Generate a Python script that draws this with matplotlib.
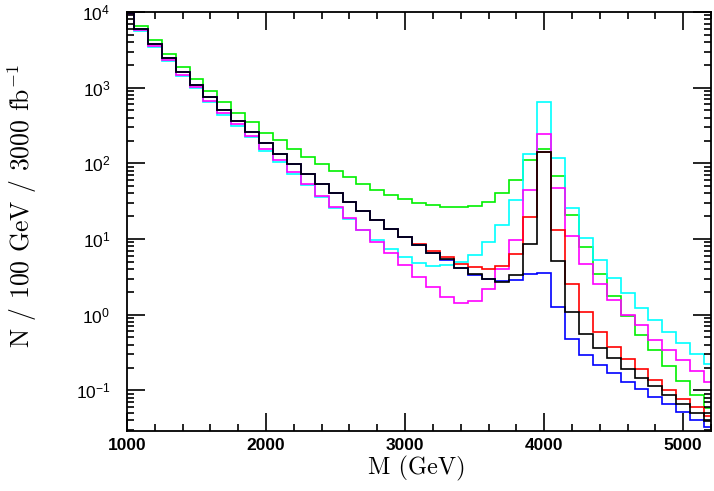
import numpy as np
import matplotlib
matplotlib.use("Agg")
import matplotlib.pyplot as plt
from matplotlib.ticker import FixedLocator, LogLocator, NullFormatter, MultipleLocator
from matplotlib.transforms import blended_transform_factory

plt.rcParams['font.family'] = ['Liberation Sans', 'DejaVu Sans']
plt.rcParams['mathtext.default'] = 'regular'

# bin centres (GeV), 100 GeV bins
mass = np.arange(1000, 5201, 100)
xtick_labels = ['1000', '2000', '3000', '4000', '5000']

green = [10500, 6500, 4240, 2770, 1850, 1290, 910, 645, 469, 349, 251, 201, 156, 123,
         97, 78, 65, 54, 45, 38.7, 33.3, 30, 28, 26.6, 26.6, 27.2, 31, 40, 60, 109, 153,
         67, 20.7, 7.8, 3.46, 1.78, 0.97, 0.546, 0.34, 0.209, 0.133, 0.087, 0.059]
cyan = [9300, 5620, 3490, 2265, 1440, 975, 641, 440, 313, 222, 147, 104, 72, 51,
        36, 25.8, 18.3, 13.1, 9.6, 7.3, 5.74, 4.79, 4.41, 4.5, 4.94, 6.15, 9.05, 15.1, 32.6, 131, 641,
        117, 25.8, 10.4, 5.24, 3.04, 1.93, 1.22, 0.84, 0.586, 0.424, 0.304, 0.22]
magenta = [9400, 5700, 3550, 2320, 1490, 1010, 668, 460, 328, 232, 155, 109, 76, 54,
           36.5, 26.1, 18.7, 13.1, 9.2, 6.48, 4.55, 3.19, 2.31, 1.69, 1.43, 1.53, 2.18, 4.05, 9.7, 44.6, 241,
           47.3, 11.1, 4.73, 2.57, 1.54, 1.0, 0.724, 0.469, 0.34, 0.25, 0.18, 0.13]
red = [9700, 5920, 3760, 2430, 1625, 1085, 746, 508, 361, 258, 185, 134, 97, 72.5,
       54, 40.5, 30.5, 23.2, 17.6, 13.5, 10.6, 8.6, 7.0, 5.7, 4.7, 4.24, 4.03, 4.4, 6.35, 19.7, 143,
       13.1, 2.54, 1.07, 0.592, 0.376, 0.256, 0.189, 0.137, 0.101, 0.0762, 0.0603, 0.0451]
blue = [9700, 5920, 3760, 2430, 1625, 1085, 746, 508, 361, 258, 185, 134, 97, 72.5,
        54, 40.5, 30.5, 23.2, 17.6, 13.5, 10.6, 8.3, 6.6, 5.2, 4.1, 3.3, 3.0, 2.8, 2.85, 3.43, 3.5,
        1.26, 0.483, 0.292, 0.213, 0.168, 0.13, 0.103, 0.0826, 0.0655, 0.0524, 0.0407, 0.0323]
black = [9700, 5920, 3760, 2430, 1625, 1085, 746, 508, 361, 258, 185, 134, 97, 72.5,
         54, 40.5, 30.5, 23.2, 17.6, 13.5, 10.6, 8.3, 6.6, 5.4, 4.2, 3.46, 2.95, 2.74, 3.3, 8.5, 141,
         5.14, 1.1, 0.562, 0.364, 0.264, 0.193, 0.147, 0.114, 0.086, 0.0655, 0.0498, 0.0395]

series = [(green, '#00f000'), (cyan, '#00ffff'), (magenta, '#ff00ff'),
          (red, '#ff0000'), (blue, '#0000ff'), (black, '#000000')]

edges = np.concatenate([mass - 50, [mass[-1] + 50]])

fig = plt.figure(figsize=(7.14, 4.91), dpi=100)
ax = fig.add_axes([127/714, 1 - 431/491, (711-127)/714, (431-12)/491])

for vals, col in series:
    ax.stairs(vals, edges, baseline=None, color=col, lw=1.2)

ax.set_yscale('log')
ax.set_xlim(1000, 5200)
ax.set_ylim(0.029, 1e4)

xt = [int(t) for t in xtick_labels]
ax.xaxis.set_major_locator(FixedLocator(xt))
ax.xaxis.set_minor_locator(MultipleLocator(200))
ax.set_yticks([1e-1, 1e0, 1e1, 1e2, 1e3, 1e4])
ax.yaxis.set_minor_locator(LogLocator(base=10, subs=np.arange(2, 10), numticks=20))
ax.yaxis.set_minor_formatter(NullFormatter())
ax.set_yticklabels([r'$10^{-1}$', r'$10^{0}$', r'$10^{1}$', r'$10^{2}$', r'$10^{3}$', r'$10^{4}$'])
ax.set_xticklabels([])

ax.tick_params(which='both', direction='in', top=True, right=True, width=1.2)
ax.tick_params(which='major', length=13, labelsize=12.5)
ax.tick_params(which='minor', length=5)
ax.tick_params(axis='y', which='major', pad=12)
for s in ax.spines.values():
    s.set_linewidth(1.3)

# x tick labels placed just below the axis
trans = blended_transform_factory(ax.transData, fig.transFigure)
for t, lab in zip(xt, xtick_labels):
    ax.text(t, 1 - 445/491, lab, transform=trans, ha='center', va='center',
            fontsize=12.5, fontweight='bold', clip_on=False)

fig.text(417/714, 1 - 468/491, 'M (GeV)', family='cmr10', fontsize=17.5,
         ha='center', va='center')
fig.text(22/714, 1 - 206/491, r'N / 100 GeV / 3000 fb$^{-1}$', family='cmr10', fontsize=18.5,
         rotation=90, ha='center', va='center')

fig.savefig('out.png', dpi=100)
